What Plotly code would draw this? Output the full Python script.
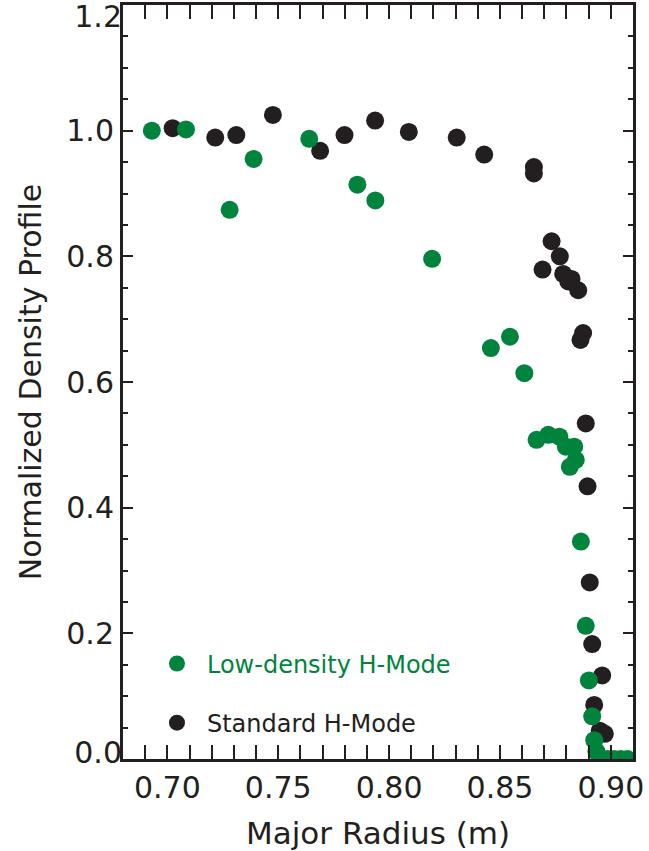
import plotly.graph_objects as go

# Standard H-Mode (black)
std_r = [0.7024, 0.7216, 0.7311, 0.7476, 0.7689, 0.7799, 0.7937, 0.8089, 0.8305, 0.8429,
         0.8653, 0.8653, 0.8733, 0.8770, 0.8692, 0.8785, 0.8823, 0.8808, 0.8853, 0.8875,
         0.8863, 0.8887, 0.8895, 0.8905, 0.8916, 0.8961, 0.8925, 0.8950, 0.8973]
std_n = [1.004, 0.989, 0.993, 1.025, 0.968, 0.993, 1.016, 0.998, 0.989, 0.962,
         0.942, 0.932, 0.824, 0.800, 0.779, 0.772, 0.764, 0.760, 0.746, 0.678,
         0.667, 0.534, 0.434, 0.281, 0.183, 0.133, 0.086, 0.045, 0.040]

# Low-density H-Mode (green)
low_r = [0.6930, 0.7084, 0.7281, 0.7389, 0.7640, 0.7857, 0.7938, 0.8194, 0.8459, 0.8545,
         0.8610, 0.8665, 0.8718, 0.8768, 0.8797, 0.8835, 0.8842, 0.8815, 0.8865, 0.8887,
         0.8901, 0.8916, 0.8925, 0.8935, 0.8950, 0.8985, 0.9015, 0.9045, 0.9075]
low_n = [1.000, 1.002, 0.874, 0.955, 0.987, 0.914, 0.889, 0.796, 0.654, 0.672,
         0.614, 0.508, 0.516, 0.513, 0.497, 0.497, 0.476, 0.465, 0.346, 0.212,
         0.125, 0.068, 0.030, 0.012, 0.0, 0.0, 0.0, 0.0, 0.0]

# Tick labels
y_mid_vals = [0.2, 0.4, 0.6, 0.8, 1.0]
y_mid_text = ["0.2", "0.4", "0.6", "0.8", "1.0"]
y_top_vals, y_top_text = [1.2], ["1.2"]
y_bot_vals, y_bot_text = [0.0], ["0.0"]
x_title = "Major Radius (m)"
y_title = "Normalized Density Profile"

GREEN = "#00843D"
BLACK = "#231F20"
FONT = "DejaVu Sans"

fig = go.Figure()
fig.add_trace(go.Scatter(
    x=std_r, y=std_n, mode="markers", name="Standard H-Mode",
    legendgroup="std", legendrank=2,
    marker=dict(color=BLACK, size=18, line=dict(width=0)),
))
fig.add_trace(go.Scatter(
    x=low_r, y=low_n, mode="markers",
    name=f"<span style='color:{GREEN}'>Low-density H-Mode</span>",
    legendgroup="low", legendrank=1,
    marker=dict(color=GREEN, size=18, line=dict(width=0)),
))
# empty helper traces so the label-only overlay axes are drawn
fig.add_trace(go.Scatter(x=[], y=[], yaxis="y2", showlegend=False, hoverinfo="skip"))
fig.add_trace(go.Scatter(x=[], y=[], yaxis="y3", showlegend=False, hoverinfo="skip"))

fig.update_layout(
    width=649, height=851,
    margin=dict(l=123, r=16, t=5, b=92, autoexpand=False),
    paper_bgcolor="white", plot_bgcolor="white",
    font=dict(family=FONT, color=BLACK, size=30),
    showlegend=True,
    legend=dict(
        x=0.047, y=0.156, xanchor="left", yanchor="top",
        bgcolor="rgba(0,0,0,0)", borderwidth=0,
        font=dict(family=FONT, size=24, color=BLACK),
        traceorder="grouped", tracegroupgap=25,
        itemwidth=50,
    ),
    annotations=[dict(
        text=x_title, xref="paper", yref="paper", x=0.5, y=0,
        xanchor="center", yanchor="middle", yshift=-74, showarrow=False,
        font=dict(family=FONT, size=31, color=BLACK),
    )],
)

fig.update_xaxes(
    range=[0.68, 0.91], tick0=0.70, dtick=0.05, tickformat=".2f",
    ticks="inside", ticklen=14, tickwidth=2, tickcolor=BLACK,
    minor=dict(dtick=0.01, ticks="inside", ticklen=7, tickwidth=2, tickcolor=BLACK),
    showline=True, linewidth=3, linecolor=BLACK, mirror="allticks",
    showgrid=False, zeroline=False, automargin=False,
    tickfont=dict(size=30),
)
fig.update_layout(
    yaxis=dict(
        range=[0.0, 1.2], tickmode="array", tickvals=[0.0] + y_mid_vals + [1.2],
        ticktext=[""] + y_mid_text + [""],
        ticks="inside", ticklen=10, tickwidth=2, tickcolor=BLACK,
        minor=dict(dtick=0.05, tick0=0.0, ticks="inside", ticklen=5, tickwidth=2, tickcolor=BLACK),
        showline=True, linewidth=3, linecolor=BLACK, mirror="allticks",
        showgrid=False, zeroline=False, automargin=False,
        tickfont=dict(size=30),
        title=dict(text=y_title, font=dict(size=30), standoff=16),
    ),
    yaxis2=dict(
        overlaying="y", side="left", range=[0.0, 1.2],
        tickmode="array", tickvals=y_top_vals, ticktext=y_top_text,
        ticks="", showline=False, showgrid=False, zeroline=False, automargin=False,
        tickfont=dict(size=30), ticklabelshift=11, ticklabeloverflow="allow",
    ),
    yaxis3=dict(
        overlaying="y", side="left", range=[0.0, 1.2],
        tickmode="array", tickvals=y_bot_vals, ticktext=y_bot_text,
        ticks="", showline=False, showgrid=False, zeroline=False, automargin=False,
        tickfont=dict(size=30), ticklabelshift=-7, ticklabeloverflow="allow",
    ),
)

fig.write_html("out.html")
